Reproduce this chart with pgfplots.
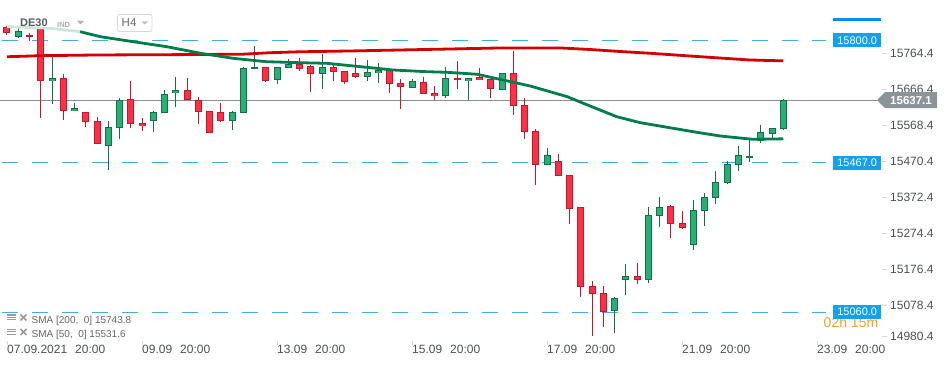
\documentclass[border=0pt]{standalone}
\usepackage{pgfplots}
\pgfplotsset{compat=1.18}
\usepackage{pgfplotstable}
\usepackage{fontspec}
\setmainfont{Liberation Sans}
\definecolor{txt}{RGB}{75,80,85}
\definecolor{candR}{RGB}{255,48,70}
\definecolor{candRb}{RGB}{190,25,45}
\definecolor{candG}{RGB}{38,176,115}
\definecolor{candGb}{RGB}{20,110,70}
\definecolor{smaR}{RGB}{210,0,0}
\definecolor{smaG}{RGB}{0,125,75}
\definecolor{smaGl}{RGB}{205,230,218}
\definecolor{hline}{RGB}{60,175,235}
\definecolor{boxB}{RGB}{20,160,235}
\definecolor{barB}{RGB}{10,140,240}
\definecolor{curG}{RGB}{140,140,140}
\definecolor{curBox}{RGB}{138,148,153}
\definecolor{orng}{RGB}{245,160,30}
\newcommand{\tkd}{\textcolor{black!15}{\rule[4bp]{5bp}{0.7bp}}\hspace{3bp}}
\pgfplotsset{candle/.style={draw=none, mark=none, forget plot, error bars/.cd, y dir=both, y explicit, error mark=none}}

\pgfplotstableread{
i o h l c
0 15835.2 15838.7 15815.0 15818.9
2 15814.2 15819.7 15798.7 15811.5
3 15830.6 15833.3 15589.7 15688.2
5 15696.4 15708.1 15583.7 15606.5
7 15603.8 15603.8 15564.6 15576.6
8 15579.3 15590.2 15516.7 15516.7
11 15639.2 15688.2 15560.3 15571.2
12 15573.9 15587.5 15553.7 15565.7
16 15663.7 15696.4 15636.5 15636.5
17 15636.5 15644.6 15571.2 15603.8
18 15606.5 15606.5 15546.7 15546.7
19 15603.8 15628.3 15576.6 15579.3
23 15726.3 15726.3 15686.3 15689.8
26 15734.5 15750.8 15717.1 15720.9
27 15729.0 15731.8 15658.3 15707.3
29 15726.3 15731.8 15688.2 15712.7
30 15715.4 15715.4 15680.0 15685.5
31 15710.0 15750.8 15696.4 15699.1
34 15718.1 15723.6 15655.5 15680.0
35 15682.8 15693.6 15612.0 15671.9
37 15685.5 15699.1 15652.8 15652.8
38 15655.5 15674.6 15636.5 15647.4
40 15696.4 15742.6 15666.4 15690.9
42 15699.1 15723.6 15690.9 15690.9
43 15693.6 15693.6 15641.9 15666.4
45 15710.0 15769.9 15595.7 15620.1
46 15622.9 15641.9 15530.3 15549.4
47 15552.1 15557.5 15406.7 15459.6
49 15470.4 15489.5 15429.6 15429.6
50 15432.3 15432.3 15300.6 15339.8
51 15345.2 15345.2 15101.9 15127.5
52 15130.2 15143.8 14995.7 15108.4
53 15111.1 15130.2 15020.2 15059.4
56 15157.4 15192.8 15135.6 15146.5
59 15347.9 15350.7 15260.8 15299.0
60 15301.7 15334.3 15285.3 15288.1
}\redtab

\pgfplotstableread{
i o h l c
1 15808.8 15833.3 15806.1 15825.1
4 15688.2 15755.2 15625.6 15696.4
6 15606.5 15628.3 15606.5 15614.7
9 15511.3 15580.1 15447.6 15563.0
10 15560.3 15641.9 15530.3 15636.5
13 15579.3 15608.2 15551.0 15603.8
14 15601.1 15663.7 15601.1 15652.8
15 15655.5 15699.1 15617.4 15663.7
20 15579.3 15606.5 15554.8 15603.8
21 15601.1 15727.9 15601.1 15723.6
22 15720.9 15783.5 15720.9 15726.3
24 15690.9 15726.3 15680.0 15726.3
25 15723.6 15748.1 15723.6 15734.5
28 15707.3 15762.5 15666.4 15726.3
32 15699.1 15745.4 15688.2 15712.7
33 15710.0 15737.2 15682.8 15718.1
36 15669.1 15693.6 15669.1 15688.2
39 15647.4 15726.3 15641.9 15696.4
41 15688.2 15696.4 15636.5 15696.4
44 15663.7 15710.0 15663.7 15710.0
48 15459.6 15505.8 15459.6 15486.8
54 15062.1 15100.2 15002.2 15097.5
55 15146.5 15190.9 15105.7 15157.4
57 15146.5 15345.2 15138.3 15323.4
58 15320.7 15372.4 15290.8 15345.2
61 15241.8 15364.3 15228.2 15337.1
62 15334.3 15383.3 15293.5 15372.4
63 15369.7 15443.2 15353.4 15413.3
64 15410.6 15470.4 15407.8 15462.3
65 15459.6 15511.3 15443.2 15486.8
66 15478.6 15527.6 15467.7 15484.1
67 15524.9 15568.4 15519.4 15549.4
68 15543.9 15560.3 15530.3 15560.3
69 15557.5 15639.2 15554.8 15637.1
}\greentab

\pgfplotstableread{
i v
0 15755.0
3 15757.9
8 15759.8
13 15760.5
17 15761.0
21 15762.0
23.4 15766.0
26 15768.5
30.5 15770.7
34.9 15773.4
39.4 15776.1
43.8 15778.9
49.2 15778.9
51.8 15774.8
54.5 15769.3
57.2 15764.4
61.6 15755.2
66 15746.2
69 15743.8
}\smaRtab

\pgfplotstableread{
i v
0 15836.8
3.8 15832.5
6.5 15823.2
}\smaGatab

\pgfplotstableread{
i v
6.5 15823.2
8.3 15809.6
11.2 15796.0
14.2 15782.4
17.2 15764.4
20.1 15750.8
23.0 15741.6
26.0 15738.8
28.4 15737.2
31.4 15728.0
34.3 15719.0
37.3 15714.3
39.1 15712.7
41.8 15707.3
43.8 15693.6
46.5 15675.4
49.8 15646.3
51.6 15623.7
54.2 15591.8
56.3 15575.5
58.9 15561.9
61.3 15549.4
63.4 15539.3
66.3 15530.3
69 15531.6
}\smaGbtab

\begin{document}
\begin{tikzpicture}
\useasboundingbox (0,0) rectangle (950bp,367bp);
\begin{axis}[
  at={(0bp,22bp)}, anchor=south west,
  scale only axis, width=830bp, height=345bp,
  xmin=-0.6222, xmax=73.1556, ymin=14970.4, ymax=15909.5,
  axis line style={draw=none},
  clip=false,
  scaled x ticks=false, scaled y ticks=false,
  xtick={0,12,24,36,48,60,72},
  xticklabels={07.09.2021\hspace{8bp}20:00, 09.09\hspace{8bp}20:00, 13.09\hspace{8bp}20:00, 15.09\hspace{8bp}20:00, 17.09\hspace{8bp}20:00, 21.09\hspace{8bp}20:00, 23.09\hspace{8bp}20:00},
  xtick pos=left,
  xtick style={draw=black!15, line width=0.6bp},
  major tick length=4bp,
  xticklabel style={anchor=west, inner sep=0pt, yshift=-4bp, font=\fontsize{12bp}{14bp}\selectfont, text=txt},
  ytick={15078.4,15176.4,15274.4,15372.4,15470.4,15568.4,15666.4,15764.4},
  yticklabels={\tkd 15078.4,\tkd 15176.4,\tkd 15274.4,\tkd 15372.4,\tkd 15470.4,\tkd 15568.4,\tkd 15666.4,\tkd 15764.4},
  ytick pos=right,
  yticklabel pos=right,
  ytick style={draw=none},
  yticklabel style={anchor=west, inner sep=0pt, xshift=52bp, font=\fontsize{12bp}{14bp}\selectfont, text=txt},
  extra y ticks={14980.4},
  extra y tick labels={\tkd 14980.4},
  extra y tick style={yticklabel style={yshift=4.6bp}},
]
% reference lines
\addplot[hline, line width=1bp, dash pattern=on 16bp off 14bp] coordinates {(-0.444,15800) (72.8,15800)};
\addplot[hline, line width=1bp, dash pattern=on 16bp off 14bp] coordinates {(-0.444,15467) (72.8,15467)};
\addplot[hline, line width=1bp, dash pattern=on 16bp off 14bp] coordinates {(-0.444,15060) (72.8,15060)};
\addplot[curG, line width=0.9bp] coordinates {(-0.6222,15637.1) (77.33,15637.1)};

% wicks
\addplot[candle, error bar style={draw=candRb, line width=1bp}]
  table[x=i, y expr={(\thisrow{h}+\thisrow{l})/2}, y error expr={(\thisrow{h}-\thisrow{l})/2}] {\redtab};
\addplot[candle, error bar style={draw=candGb, line width=1bp}]
  table[x=i, y expr={(\thisrow{h}+\thisrow{l})/2}, y error expr={(\thisrow{h}-\thisrow{l})/2}] {\greentab};
% bodies (outline)
\addplot[candle, error bar style={draw=candRb, line width=7bp, line cap=butt}]
  table[x=i, y expr={(\thisrow{o}+\thisrow{c})/2}, y error expr={max(abs(\thisrow{o}-\thisrow{c})/2,1.4)}] {\redtab};
\addplot[candle, error bar style={draw=candGb, line width=7bp, line cap=butt}]
  table[x=i, y expr={(\thisrow{o}+\thisrow{c})/2}, y error expr={max(abs(\thisrow{o}-\thisrow{c})/2,1.4)}] {\greentab};
% bodies (fill)
\addplot[candle, error bar style={draw=candR, line width=5bp, line cap=butt}]
  table[x=i, y expr={(\thisrow{o}+\thisrow{c})/2}, y error expr={max(abs(\thisrow{o}-\thisrow{c})/2-2.722,0)}] {\redtab};
\addplot[candle, error bar style={draw=candG, line width=5bp, line cap=butt}]
  table[x=i, y expr={(\thisrow{o}+\thisrow{c})/2}, y error expr={max(abs(\thisrow{o}-\thisrow{c})/2-2.722,0)}] {\greentab};

% moving averages
\addplot[smaR, line width=2.8bp] table[x=i, y=v] {\smaRtab};
\addplot[smaGl, line width=2.8bp] table[x=i, y=v] {\smaGatab};
\addplot[smaG, line width=2.8bp] table[x=i, y=v] {\smaGbtab};

% right-hand labels
\node[text=orng, font=\fontsize{14bp}{16bp}\selectfont] at (axis cs:75.02,15031.0) {02h 15m};
\node[fill=boxB, text=white, inner sep=0pt, minimum width=48bp, minimum height=14bp, anchor=west, xshift=3bp, font=\fontsize{11bp}{13bp}\selectfont] at (axis cs:73.1556,15800) {15800.0};
\node[fill=boxB, text=white, inner sep=0pt, minimum width=48bp, minimum height=14bp, anchor=west, xshift=3bp, font=\fontsize{11bp}{13bp}\selectfont] at (axis cs:73.1556,15467) {15467.0};
\node[fill=boxB, text=white, inner sep=0pt, minimum width=48bp, minimum height=14bp, anchor=west, xshift=3bp, font=\fontsize{11bp}{13bp}\selectfont] at (axis cs:73.1556,15060) {15060.0};
\end{axis}

\begin{scope}[x=1bp, y=-1bp, shift={(0bp,367bp)}]
% current price label
\fill[curBox] (877,100.1) -- (885,92.1) -- (937,92.1) -- (937,108.1) -- (885,108.1) -- cycle;
\node[text=white, font=\bfseries\fontsize{11.5bp}{13bp}\selectfont] at (911,100.1) {15637.1};
% blue bar top right
\fill[barB] (833,18) rectangle (881,21);
% header
\node[anchor=west, inner sep=0pt, text={rgb,255:red,85;green,90;blue,95}, font=\bfseries\fontsize{11bp}{13bp}\selectfont] at (20,23) {DE30};
\node[anchor=west, inner sep=0pt, text={rgb,255:red,165;green,172;blue,182}, font=\bfseries\fontsize{7.5bp}{9bp}\selectfont] at (57,24.5) {IND};
\fill[black!30] (77,21) -- (84,21) -- (80.5,24.5) -- cycle;
\draw[black!15, rounded corners=2bp, line width=0.8bp] (117.5,14.5) rectangle (152,31.5);
\node[anchor=west, inner sep=0pt, text={rgb,255:red,100;green,105;blue,110}, font=\fontsize{11.5bp}{13bp}\selectfont] at (121.5,23) {H4};
\fill[black!25] (141.5,21.5) -- (148,21.5) -- (144.75,24.5) -- cycle;
% legend bottom left
\foreach \yy in {317.5,332} {
  \draw[black!40, line width=1.3bp] (7,\yy-2.5) -- (16,\yy-2.5);
  \draw[black!40, line width=1bp] (7,\yy) -- (16,\yy);
  \draw[black!40, line width=1bp] (7,\yy+2.5) -- (16,\yy+2.5);
  \draw[black!40, line width=1.6bp] (20.5,\yy-3) -- (26.5,\yy+3);
  \draw[black!40, line width=1.6bp] (20.5,\yy+3) -- (26.5,\yy-3);
}
\node[anchor=west, inner sep=0pt, text={rgb,255:red,100;green,100;blue,100}, font=\fontsize{10bp}{12bp}\selectfont] at (31.5,320.7) {SMA\ [200,\ \ 0]\ 15743.8};
\node[anchor=west, inner sep=0pt, text={rgb,255:red,100;green,100;blue,100}, font=\fontsize{10bp}{12bp}\selectfont] at (31.5,334.7) {SMA\ [50,\ \ 0]\ 15531.6};
\end{scope}
\end{tikzpicture}
\end{document}
